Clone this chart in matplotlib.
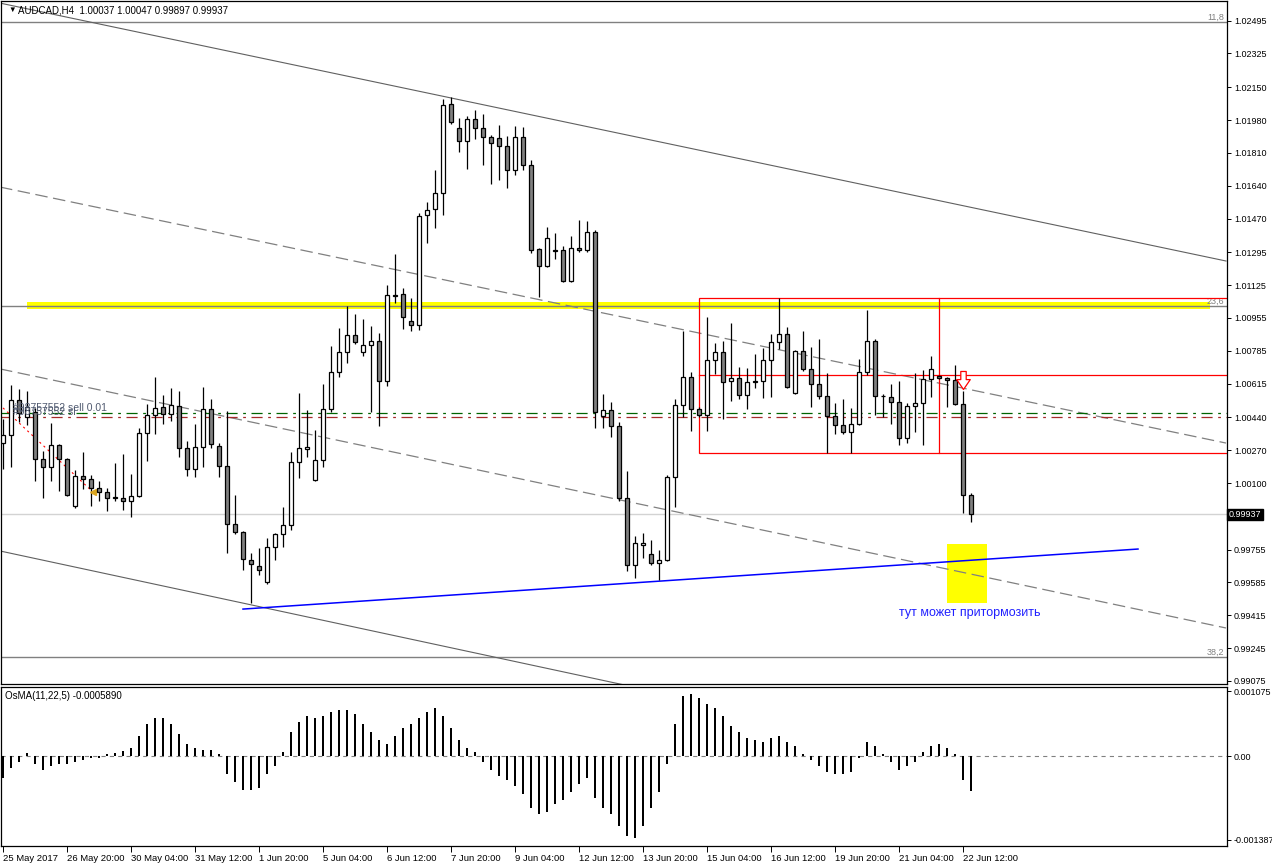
import numpy as np
import matplotlib
matplotlib.use('Agg')
import matplotlib.pyplot as plt
from matplotlib.path import Path
from matplotlib.patches import Rectangle

plt.rcParams['font.family'] = ['Liberation Sans', 'DejaVu Sans']
plt.rcParams['lines.scale_dashes'] = False

# 
# AUDCAD H4 candles (open, high, low, close), 25 May 12:00 -> 22 Jun 16:00
# 
op = [1.00307, 1.00349, 1.00530, 1.00442, 1.00468, 1.00224, 1.00183, 1.00297, 1.00224, 0.99981,
      1.00136, 1.00121, 1.00074, 1.00053, 1.00028, 1.00022, 1.00007, 1.00033, 1.00359, 1.00452,
      1.00494, 1.00458, 1.00499, 1.00281, 1.00173, 1.00287, 1.00483, 1.00292, 1.00188, 0.99888,
      0.99846, 0.99701, 0.99670, 0.99587, 0.99769, 0.99836, 0.99883, 1.00209, 1.00276, 1.00116,
      1.00219, 1.00483, 1.00675, 1.00779, 1.00867, 1.00779, 1.00815, 1.00836, 1.00628, 1.01074,
      1.01079, 1.00939, 1.00919, 1.01488, 1.01519, 1.01602, 1.02063, 1.01939, 1.01872, 1.01986,
      1.01939, 1.01892, 1.01887, 1.01846, 1.01721, 1.01892, 1.01747, 1.01312, 1.01224, 1.01307,
      1.01307, 1.01146, 1.01317, 1.01307, 1.01400, 1.00447, 1.00478, 1.00395, 1.00022, 0.99675,
      0.99779, 0.99732, 0.99686, 0.99701, 1.00131, 1.00504, 1.00649, 1.00483, 1.00452, 1.00737,
      1.00779, 1.00628, 1.00644, 1.00556, 1.00623, 1.00628, 1.00737, 1.00830, 1.00872, 1.00566,
      1.00784, 1.00691, 1.00613, 1.00551, 1.00447, 1.00401, 1.00364, 1.00406, 1.00675, 1.00836,
      1.00551, 1.00545, 1.00520, 1.00333, 1.00499, 1.00515, 1.00639, 1.00654, 1.00644, 1.00634,
      1.00509, 1.00037]
hi = [1.00432, 1.00608, 1.00587, 1.00577, 1.00489, 1.00266, 1.00411, 1.00302, 1.00230, 1.00167,
      1.00261, 1.00142, 1.00110, 1.00074, 1.00204, 1.00250, 1.00147, 1.00385, 1.00509, 1.00649,
      1.00556, 1.00592, 1.00577, 1.00318, 1.00406, 1.00597, 1.00535, 1.00307, 1.00473, 1.00038,
      0.99851, 0.99738, 0.99763, 0.99815, 0.99841, 0.99976, 1.00261, 1.00566, 1.00478, 1.00375,
      1.00613, 1.00810, 1.00903, 1.01017, 1.00976, 1.00950, 1.00913, 1.00877, 1.01126, 1.01286,
      1.01110, 1.01058, 1.01499, 1.01556, 1.01721, 1.02089, 1.02100, 1.01991, 1.02001, 1.02032,
      1.02012, 1.01903, 1.01955, 1.01898, 1.01949, 1.01944, 1.01773, 1.01317, 1.01426, 1.01395,
      1.01328, 1.01380, 1.01462, 1.01457, 1.01411, 1.00561, 1.00520, 1.00416, 1.00162, 0.99825,
      0.99841, 0.99805, 0.99753, 1.00142, 1.00535, 1.00887, 1.00675, 1.00494, 1.00960, 1.00825,
      1.00836, 1.00929, 1.00701, 1.00696, 1.00768, 1.00799, 1.00872, 1.01058, 1.00908, 1.00789,
      1.00887, 1.00805, 1.00846, 1.00670, 1.00515, 1.00535, 1.00489, 1.00742, 1.00996, 1.00846,
      1.00561, 1.00613, 1.00628, 1.00515, 1.00670, 1.00685, 1.00758, 1.00660, 1.00649, 1.00711,
      1.00577, 1.00047]
lo = [1.00173, 1.00183, 1.00416, 1.00401, 1.00110, 1.00022, 1.00110, 1.00059, 1.00033, 0.99971,
      1.00069, 0.99981, 1.00007, 0.99955, 1.00007, 0.99960, 0.99924, 1.00028, 1.00214, 1.00354,
      1.00406, 1.00421, 1.00235, 1.00136, 1.00131, 1.00183, 1.00281, 1.00131, 0.99738, 0.99836,
      0.99649, 0.99479, 0.99624, 0.99577, 0.99701, 0.99769, 0.99857, 1.00126, 1.00235, 1.00110,
      1.00183, 1.00468, 1.00649, 1.00722, 1.00820, 1.00758, 1.00468, 1.00395, 1.00603, 1.01033,
      1.00898, 1.00887, 1.00893, 1.01343, 1.01421, 1.01488, 1.01960, 1.01815, 1.01727, 1.01882,
      1.01747, 1.01649, 1.01670, 1.01628, 1.01696, 1.01721, 1.01292, 1.01063, 1.01219, 1.01260,
      1.01141, 1.01141, 1.01297, 1.01297, 1.00385, 1.00385, 1.00338, 1.00007, 0.99644, 0.99608,
      0.99712, 0.99675, 0.99598, 0.99696, 0.99976, 1.00442, 1.00369, 1.00442, 1.00369, 1.00665,
      1.00432, 1.00525, 1.00535, 1.00483, 1.00592, 1.00540, 1.00545, 1.00794, 1.00592, 1.00561,
      1.00680, 1.00494, 1.00535, 1.00255, 1.00354, 1.00354, 1.00255, 1.00401, 1.00660, 1.00452,
      1.00442, 1.00406, 1.00297, 1.00307, 1.00364, 1.00297, 1.00545, 1.00639, 1.00494, 1.00504,
      0.99945, 0.99897]
cl = [1.00349, 1.00530, 1.00463, 1.00494, 1.00224, 1.00183, 1.00297, 1.00224, 1.00038, 1.00136,
      1.00121, 1.00074, 1.00053, 1.00022, 1.00022, 1.00007, 1.00033, 1.00359, 1.00452, 1.00489,
      1.00458, 1.00504, 1.00281, 1.00173, 1.00287, 1.00483, 1.00302, 1.00188, 0.99888, 0.99846,
      0.99706, 0.99681, 0.99649, 0.99769, 0.99836, 0.99883, 1.00209, 1.00281, 1.00287, 1.00219,
      1.00483, 1.00675, 1.00779, 1.00867, 1.00830, 1.00815, 1.00836, 1.00628, 1.01074, 1.01069,
      1.00960, 1.00919, 1.01483, 1.01514, 1.01602, 1.02058, 1.01970, 1.01872, 1.01986, 1.01939,
      1.01892, 1.01861, 1.01846, 1.01721, 1.01892, 1.01747, 1.01307, 1.01224, 1.01369, 1.01302,
      1.01146, 1.01317, 1.01307, 1.01400, 1.00468, 1.00478, 1.00395, 1.00022, 0.99675, 0.99789,
      0.99789, 0.99686, 0.99701, 1.00131, 1.00504, 1.00649, 1.00483, 1.00452, 1.00737, 1.00779,
      1.00623, 1.00644, 1.00556, 1.00623, 1.00626, 1.00737, 1.00830, 1.00872, 1.00597, 1.00784,
      1.00691, 1.00613, 1.00551, 1.00447, 1.00401, 1.00364, 1.00406, 1.00675, 1.00836, 1.00551,
      1.00551, 1.00520, 1.00333, 1.00499, 1.00515, 1.00639, 1.00691, 1.00644, 1.00634, 1.00509,
      1.00037, 0.99937]

# OsMA(11,22,5) histogram
osma = [-0.000365, -0.000199, -0.000100, 0.000050, -0.000133, -0.000232, -0.000166, -0.000133, -0.000133, -0.000100,
        -0.000066, -0.000033, -0.000033, 0.000033, 0.000050, 0.000083, 0.000133, 0.000332, 0.000531, 0.000631,
        0.000631, 0.000531, 0.000365, 0.000199, 0.000133, 0.000100, 0.000100, 0.000033, -0.000299, -0.000432,
        -0.000564, -0.000564, -0.000531, -0.000299, -0.000166, 0.000066, 0.000398, 0.000564, 0.000664, 0.000631,
        0.000664, 0.000730, 0.000764, 0.000764, 0.000697, 0.000531, 0.000398, 0.000266, 0.000199, 0.000332,
        0.000465, 0.000531, 0.000631, 0.000730, 0.000797, 0.000664, 0.000465, 0.000266, 0.000133, 0.000066,
        -0.000100, -0.000232, -0.000332, -0.000398, -0.000498, -0.000631, -0.000863, -0.000963, -0.000930, -0.000797,
        -0.000730, -0.000598, -0.000465, -0.000365, -0.000697, -0.000863, -0.000963, -0.001162, -0.001328, -0.001361,
        -0.001162, -0.000863, -0.000598, -0.000133, 0.000531, 0.000996, 0.001029, 0.000963, 0.000863, 0.000797,
        0.000664, 0.000498, 0.000398, 0.000299, 0.000266, 0.000232, 0.000299, 0.000332, 0.000232, 0.000166,
        0.000033, -0.000066, -0.000166, -0.000266, -0.000299, -0.000299, -0.000266, -0.000033, 0.000232, 0.000166,
        0.000033, -0.000100, -0.000232, -0.000166, -0.000100, 0.000066, 0.000166, 0.000199, 0.000133, 0.000033,
        -0.000398, -0.000589]

time_labels = ['25 May 2017', '26 May 20:00', '30 May 04:00', '31 May 12:00', '1 Jun 20:00',
               '5 Jun 04:00', '6 Jun 12:00', '7 Jun 20:00', '9 Jun 04:00', '12 Jun 12:00',
               '13 Jun 20:00', '15 Jun 04:00', '16 Jun 12:00', '19 Jun 20:00', '21 Jun 04:00',
               '22 Jun 12:00']
price_ticks = [1.02495, 1.02325, 1.02150, 1.01980, 1.01810, 1.01640, 1.01470, 1.01295, 1.01125,
               1.00955, 1.00785, 1.00615, 1.00440, 1.00270, 1.00100, 0.99755, 0.99585, 0.99415,
               0.99245, 0.99075]
last_price = 0.99937

# chart objects (bar index, price)
fibo_levels = [(1.02488, '11,8'), (1.01017, '23,6'), (0.99199, '38,2')]
channel_solid = [((-0.375, 1.02586), (152.875, 1.01250)), ((-0.375, 0.99748), (152.875, 0.98385))]
channel_dashed = [((-0.375, 1.01633), (152.875, 1.00307)), ((-0.375, 1.00691), (152.875, 0.99349))]
blue_line = ((30.0, 0.99447), (141.875, 0.99758))
yellow_band = (3.0, 150.9, 1.01001, 1.01038)
yellow_box = (118.0, 123.0, 0.99478, 0.99784)
range_box = (87.0, 117.0, 1.00255, 1.01058)
range_mid = 1.00660
order_open = 1.00463
order_sl = 1.00442
order_hist = ((0.0, 1.00489), (11.25, 1.00053))

# 
# figure layout (pixel based)
# 
W, H = 1272, 867
fig = plt.figure(figsize=(W/100.0, H/100.0), dpi=100)
fig.patch.set_facecolor('white')

def px_rect(x0, y0, x1, y1):
    return [x0/float(W), 1 - y1/float(H), (x1-x0)/float(W), (y1-y0)/float(H)]

ax = fig.add_axes(px_rect(1, 1, 1227, 684))
ax2 = fig.add_axes(px_rect(1, 687, 1227, 846))

idx = np.arange(len(op))
op = np.array(op); hi = np.array(hi); lo = np.array(lo); cl = np.array(cl)
up = cl >= op

xmax = 153.0
ax.set_xlim(-0.25, xmax)
ax.set_ylim(0.990589, 1.025968)

# 
# objects behind candles
# 
for lev, txt in fibo_levels:
    ax.axhline(lev, color='#808080', lw=1.0, zorder=2)
    ax.text(xmax - 0.3, lev, txt, ha='right', va='bottom', fontsize=6.5, color='#808080', zorder=2)
x0, x1, y0, y1 = yellow_band
ax.add_patch(Rectangle((x0, y0), x1-x0, y1-y0, color='#ffff00', lw=0, zorder=1))
for (a, b) in channel_solid:
    ax.plot([a[0], b[0]], [a[1], b[1]], color='#606060', lw=0.8, zorder=2)
for (a, b) in channel_dashed:
    ax.plot([a[0], b[0]], [a[1], b[1]], color='#808080', lw=0.9, dashes=(9, 4), zorder=2)
ax.axhline(last_price, color='#d3d3d3', lw=1.0, zorder=1)
ax.axhline(order_open, color='#006400', lw=0.9, dashes=(8, 4, 2, 4), zorder=2)
ax.axhline(order_sl, color='#a52a2a', lw=0.9, dashes=(8, 4, 2, 4), zorder=2)
ax.plot([order_hist[0][0], order_hist[1][0]], [order_hist[0][1], order_hist[1][1]],
        color='red', lw=0.8, dashes=(1.5, 2.5), zorder=2)
ax.plot(order_hist[1][0], order_hist[1][1], marker='<', ms=5, color='#daa520', zorder=4)
ax.text(1.3, order_open, '#98757552 sell 0.01', fontsize=7.5, color='#505a70', va='bottom', zorder=5)
ax.text(1.3, order_sl, '#98757552 sl', fontsize=7.5, color='#505a70', va='bottom', zorder=5)

# range box (red)
bx0, bx1, by0, by1 = range_box
ax.add_patch(Rectangle((bx0, by0), bx1-bx0, by1-by0, fill=False, ec='red', lw=0.9, zorder=2))
ax.plot([bx1, xmax], [by1, by1], color='red', lw=0.9, zorder=2)
ax.plot([bx1, xmax], [by0, by0], color='red', lw=0.9, zorder=2)
ax.plot([bx0, xmax], [range_mid, range_mid], color='red', lw=0.9, zorder=2)

# yellow target box and blue support line
x0, x1, y0, y1 = yellow_box
ax.add_patch(Rectangle((x0, y0), x1-x0, y1-y0, color='#ffff00', lw=0, zorder=1))
ax.plot([blue_line[0][0], blue_line[1][0]], [blue_line[0][1], blue_line[1][1]], color='#0000ff', lw=1.1, zorder=3)
ax.text(120.9, 0.99427, 'тут может притормозить', color='#2020ff', fontsize=9, ha='center', va='center', zorder=5)

# 
# candles
# 
ax.vlines(idx, lo, hi, color='black', lw=0.9, zorder=3)
ax.bar(idx, cl - op, bottom=op, width=0.6, color=np.where(up, 'white', '#808080'),
       edgecolor='black', linewidth=0.9, zorder=4)

# red down arrow
arrow = Path([(-0.3, 1.0), (0.3, 1.0), (0.3, 0.1), (0.75, 0.1), (0.0, -1.0), (-0.75, 0.1), (-0.3, 0.1), (-0.3, 1.0)],
             [Path.MOVETO] + [Path.LINETO]*6 + [Path.CLOSEPOLY])
ax.plot(120.0, 1.00632, marker=arrow, ms=13, mfc='white', mec='red', mew=0.9, zorder=6)

# header
ax.text(0.006, 0.992, u'\u25bc', transform=ax.transAxes, fontsize=5.5, va='top', ha='left', color='black')
ax.text(0.014, 0.993, 'AUDCAD,H4  1.00037 1.00047 0.99897 0.99937', transform=ax.transAxes,
        fontsize=7, va='top', ha='left', color='black')

# price axis
ax.set_xticks([])
ax.yaxis.tick_right()
ax.set_yticks(price_ticks)
ax.set_yticklabels(['%.5f' % p for p in price_ticks])
ax.tick_params(axis='y', direction='out', length=3, width=0.7, pad=2, labelsize=6.5)
ax.text(1.0015, last_price, '%.5f' % last_price, transform=ax.get_yaxis_transform(), fontsize=6.5,
        color='white', va='center', ha='left', zorder=10,
        bbox=dict(boxstyle='square,pad=0.15', fc='black', ec='black'))
for s in ax.spines.values():
    s.set_linewidth(0.9)

# 
# OsMA window
# 
ax2.set_xlim(-0.25, xmax)
ax2.set_ylim(-0.001494, 0.0011454)
ax2.bar(idx, osma, width=0.35, color='black', zorder=3)
ax2.axhline(0, color='#808080', lw=0.8, dashes=(3, 3), zorder=1)
ax2.text(0.003, 0.975, 'OsMA(11,22,5) -0.0005890', transform=ax2.transAxes, fontsize=7, va='top', ha='left')
ax2.yaxis.tick_right()
ax2.set_yticks([0.001075, 0.0, -0.001387])
ax2.set_yticklabels(['0.001075', '0.00', '-0.001387'])
ax2.tick_params(axis='y', direction='out', length=3, width=0.7, pad=2, labelsize=6.5)
ax2.set_xticks(np.arange(0, 8*len(time_labels), 8))
ax2.set_xticklabels(time_labels)
for t in ax2.get_xticklabels():
    t.set_horizontalalignment('left')
ax2.tick_params(axis='x', direction='out', length=4, width=0.7, pad=2, labelsize=6.8)
for s in ax2.spines.values():
    s.set_linewidth(0.9)

fig.savefig('out.png', dpi=100, facecolor='white')
